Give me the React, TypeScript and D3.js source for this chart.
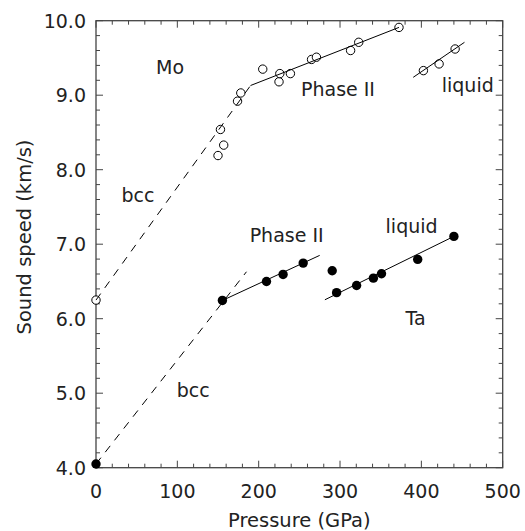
import React from "react";
import * as d3 from "d3";

const moP = [0, 150, 153, 157, 174, 178, 205, 225, 226, 239, 265, 271, 313, 323, 372.5];
const moV = [6.25, 8.19, 8.54, 8.33, 8.92, 9.03, 9.35, 9.18, 9.29, 9.29, 9.48, 9.51, 9.6, 9.71, 9.91];
const moLiqP = [402.5, 421.8, 441.5];
const moLiqV = [9.33, 9.42, 9.62];
const taP = [0, 155.4, 209.6, 230, 254.7];
const taV = [4.05, 6.245, 6.5, 6.594, 6.746];
const taLiqP = [290.4, 295.8, 320.4, 341, 351, 395.5, 440];
const taLiqV = [6.644, 6.35, 6.446, 6.544, 6.603, 6.796, 7.105];

const fitLines: { pts: [number, number][]; dashed: boolean }[] = [
  { pts: [[0, 6.25], [190, 9.13]], dashed: true },
  { pts: [[190, 9.13], [372.5, 9.91]], dashed: false },
  { pts: [[390, 9.24], [453, 9.71]], dashed: false },
  { pts: [[0, 4.05], [185, 6.63]], dashed: true },
  { pts: [[155.4, 6.245], [275, 6.85]], dashed: false },
  { pts: [[281.4, 6.254], [440, 7.105]], dashed: false },
];

const labels = [
  { text: "Mo", p: 91, v: 9.38 },
  { text: "bcc", p: 51.6, v: 7.66 },
  { text: "Phase II", p: 297.5, v: 9.08 },
  { text: "liquid", p: 457, v: 9.14 },
  { text: "Phase II", p: 234.4, v: 7.12 },
  { text: "liquid", p: 388, v: 7.24 },
  { text: "Ta", p: 393, v: 6.01 },
  { text: "bcc", p: 119.6, v: 5.04 },
];

const xTicks = [0, 100, 200, 300, 400, 500];
const yTicks = [4, 5, 6, 7, 8, 9, 10];

export default function App() {
  const W = 525, H = 531;
  const L = 96, R = 502.7, T = 20.7, B = 467.7;
  const x = d3.scaleLinear().domain([0, 500]).range([L, R]);
  const y = d3.scaleLinear().domain([4, 10]).range([B, T]);
  const line = d3.line<[number, number]>().x((d) => x(d[0])).y((d) => y(d[1]));
  const font = "'DejaVu Sans', Verdana, sans-serif";
  const axisColor = "#444";

  const xMinor = d3.range(0, 501, 20);
  const yMinor = d3.range(40, 101, 2).map((d) => d / 10);

  return (
    <svg width={W} height={H} style={{ position: "absolute", left: 0, top: 0 }} fontFamily={font}>
      <rect x={0} y={0} width={W} height={H} fill="#fff" />
      {/* ticks */}
      <g stroke={axisColor} strokeWidth={1}>
        {xMinor.map((t) => {
          const major = t % 100 === 0;
          const len = major ? 7 : 4;
          return (
            <g key={"x" + t}>
              <line x1={x(t)} x2={x(t)} y1={B} y2={B - len} />
              <line x1={x(t)} x2={x(t)} y1={T} y2={T + len} />
            </g>
          );
        })}
        {yMinor.map((t) => {
          const major = Math.abs(t - Math.round(t)) < 1e-6;
          const len = major ? 7 : 4;
          return (
            <g key={"y" + t}>
              <line x1={L} x2={L + len} y1={y(t)} y2={y(t)} />
              <line x1={R} x2={R - len} y1={y(t)} y2={y(t)} />
            </g>
          );
        })}
        <rect x={L} y={T} width={R - L} height={B - T} fill="none" strokeWidth={1.3} />
      </g>
      {/* tick labels */}
      <g fill="#222" fontSize={19}>
        {xTicks.map((t) => (
          <text key={"xl" + t} x={x(t)} y={B + 30} textAnchor="middle">{t}</text>
        ))}
        {yTicks.map((t) => (
          <text key={"yl" + t} x={L - 10} y={y(t) + 7} textAnchor="end">{t.toFixed(1)}</text>
        ))}
      </g>
      <text x={(L + R) / 2} y={527} textAnchor="middle" fontSize={19.5} fill="#222">Pressure (GPa)</text>
      <text transform={`translate(31, ${237}) rotate(-90)`} textAnchor="middle" fontSize={19.5} fill="#222">Sound speed (km/s)</text>
      {/* points */}
      <g>
        {moP.map((p, i) => (
          <circle key={"mo" + i} cx={x(p)} cy={y(moV[i])} r={4.2} fill="#fff" stroke="#000" strokeWidth={1} />
        ))}
        {moLiqP.map((p, i) => (
          <circle key={"ml" + i} cx={x(p)} cy={y(moLiqV[i])} r={4.2} fill="#fff" stroke="#000" strokeWidth={1} />
        ))}
        {taP.map((p, i) => (
          <circle key={"ta" + i} cx={x(p)} cy={y(taV[i])} r={4.7} fill="#000" />
        ))}
        {taLiqP.map((p, i) => (
          <circle key={"tl" + i} cx={x(p)} cy={y(taLiqV[i])} r={4.7} fill="#000" />
        ))}
      </g>
      {/* fit lines */}
      <g fill="none" stroke="#000" strokeWidth={1}>
        {fitLines.map((l, i) => (
          <path key={"l" + i} d={line(l.pts) || ""} strokeDasharray={l.dashed ? "8,7" : undefined} />
        ))}
      </g>
      {/* annotations */}
      <g fontSize={19} fill="#222" textAnchor="middle">
        {labels.map((lb, i) => (
          <text key={"a" + i} x={x(lb.p)} y={y(lb.v)} dominantBaseline="central">{lb.text}</text>
        ))}
      </g>
    </svg>
  );
}
